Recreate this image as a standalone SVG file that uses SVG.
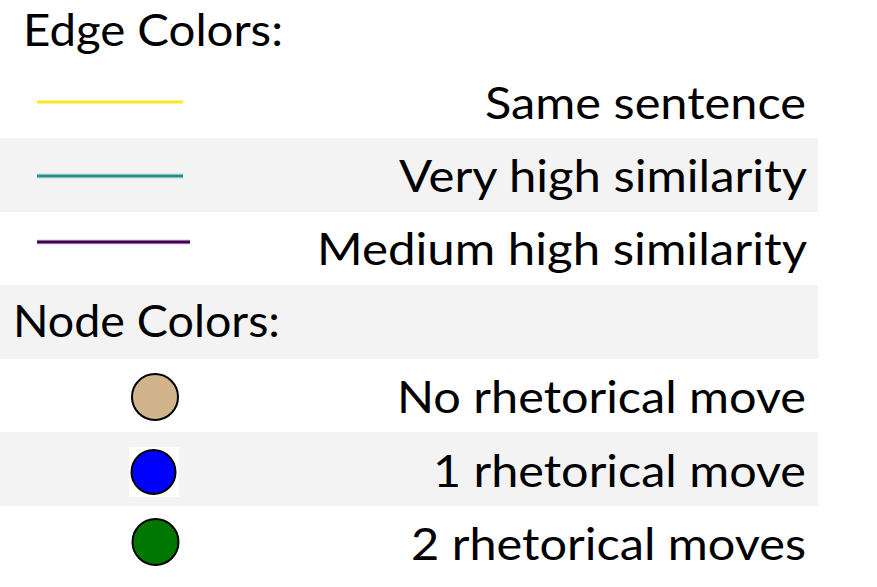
<svg xmlns="http://www.w3.org/2000/svg" width="877" height="587" viewBox="0 0 877 587">
  <style>
    .band { fill: #f3f3f3; }
    .t { font-family: Lato, "Open Sans", "Liberation Sans", sans-serif; font-size: 45px; fill: #000; }
    .r { text-anchor: end; }
    .edge { stroke-width: 3; fill: none; }
    .dot { stroke: #000; stroke-width: 2; }
  </style>
  <rect x="0" y="0" width="877" height="587" fill="#ffffff"/>
  <g id="bands">
    <rect class="band" x="0" y="138" width="818" height="74"/>
    <rect class="band" x="0" y="285" width="818" height="74"/>
    <rect class="band" x="0" y="432" width="818" height="74"/>
  </g>
  <g id="edge-title">
    <text class="t" x="23" y="46" textLength="260" lengthAdjust="spacingAndGlyphs">Edge Colors:</text>
  </g>
  <g id="connectors">
    <line class="edge" x1="37" y1="102" x2="183" y2="102" stroke="#fde725"/>
    <line x1="37" y1="176" x2="183" y2="176" stroke="#d8ecea" stroke-width="6"/>
    <line class="edge" x1="37" y1="176" x2="183" y2="176" stroke="#21918c"/>
    <line x1="37" y1="242" x2="190" y2="242" stroke="#d9cde0" stroke-width="5"/>
    <line class="edge" x1="37" y1="242" x2="190" y2="242" stroke="#440154"/>
  </g>
  <g id="row-same-sentence">
    <text class="t r" x="806" y="119" textLength="321" lengthAdjust="spacingAndGlyphs">Same sentence</text>
  </g>
  <g id="row-very-high">
    <text class="t r" x="807" y="192" textLength="408" lengthAdjust="spacingAndGlyphs">Very high similarity</text>
  </g>
  <g id="row-medium-high">
    <text class="t r" x="807" y="265" textLength="490" lengthAdjust="spacingAndGlyphs">Medium high similarity</text>
  </g>
  <g id="node-title">
    <text class="t" x="13" y="337" textLength="267" lengthAdjust="spacingAndGlyphs">Node Colors:</text>
  </g>
  <g id="node-none">
    <circle class="dot" cx="155" cy="397" r="23" fill="#d2b48c"/>
    <text class="t r" x="806" y="413" textLength="409" lengthAdjust="spacingAndGlyphs">No rhetorical move</text>
  </g>
  <g id="node-one">
    <rect x="129" y="447" width="50" height="50" fill="#ffffff"/>
    <circle class="dot" cx="153.5" cy="472" r="22" fill="#0000ff"/>
    <text class="t r" x="806" y="487" textLength="373" lengthAdjust="spacingAndGlyphs">1 rhetorical move</text>
  </g>
  <g id="node-two">
    <circle class="dot" cx="155.5" cy="542" r="23" fill="#007700"/>
    <text class="t r" x="806" y="560" textLength="395" lengthAdjust="spacingAndGlyphs">2 rhetorical moves</text>
  </g>
</svg>
